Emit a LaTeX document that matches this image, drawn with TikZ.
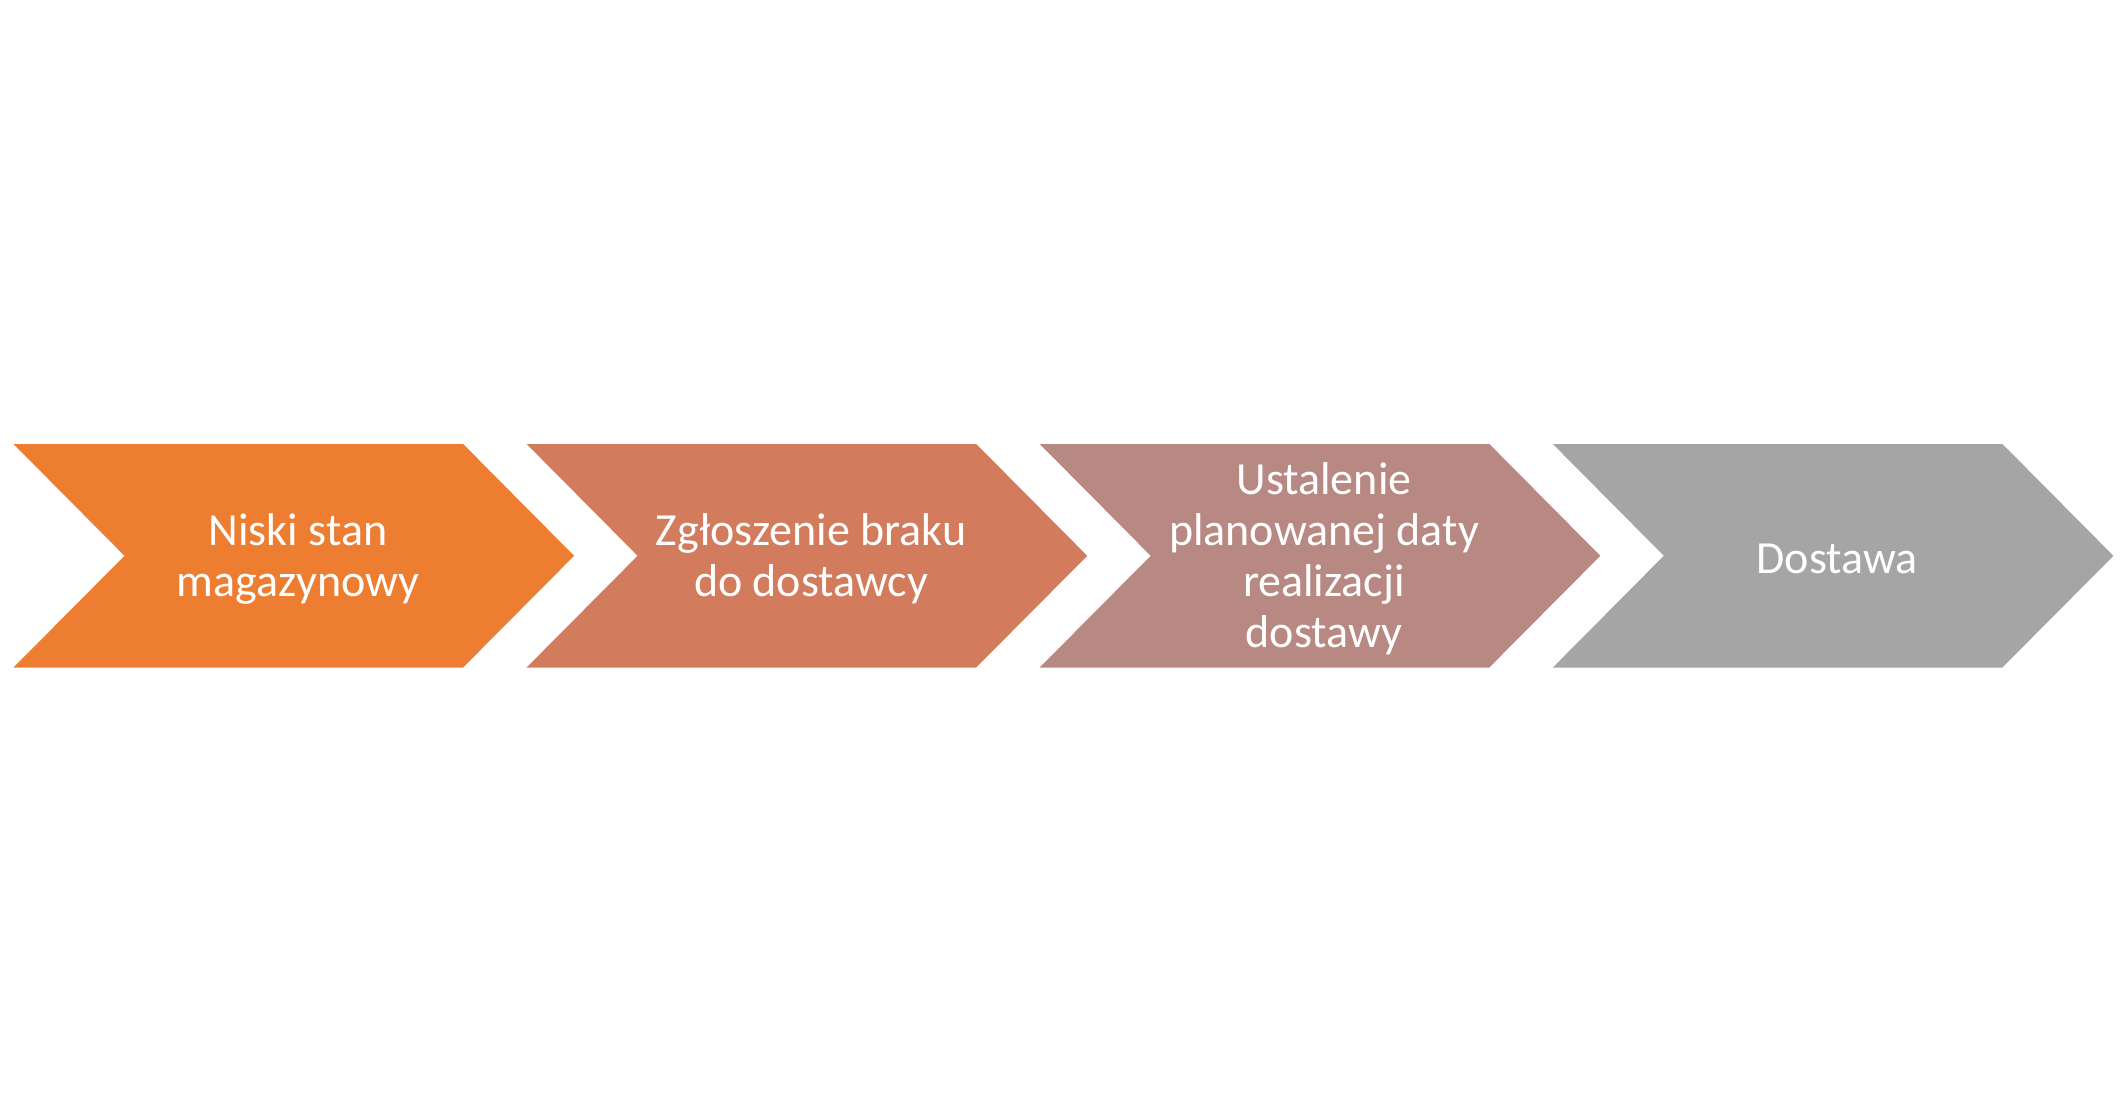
\documentclass[tikz,border=0pt]{standalone}
\usepackage{fontspec}
\setmainfont{Carlito}
\definecolor{cA}{HTML}{ED7D31}
\definecolor{cB}{HTML}{D27B5D}
\definecolor{cC}{HTML}{B88982}
\definecolor{cD}{HTML}{A5A5A5}
\begin{document}
\begin{tikzpicture}[x=0.5pt,y=-0.5pt,
  lbl/.style={text=white,align=center,font=\fontsize{23pt}{25.5pt}\selectfont,inner sep=0pt}]
\useasboundingbox (0,0) rectangle (2123,1112);
\foreach \L/\c in {13.5/cA,526.6/cB,1039.7/cC,1552.8/cD}{
  \fill[\c] (\L,444) -- ++(449.6,0) -- ++(111,111.8) -- ++(-111,111.7) -- ++(-449.6,0) -- ++(111,-111.7) -- cycle;
}
\node[lbl] (t1) at (298,558.5) {Niski stan\\magazynowy};
\node[lbl] (t2) at (811,558.5) {Zgłoszenie braku\\do dostawcy};
\node[lbl] (t3) at (1324,558.5) {Ustalenie\\planowanej daty\\realizacji\\dostawy};
\node[lbl] (t4) at (1837,558.5) {Dostawa};
\end{tikzpicture}
\end{document}
